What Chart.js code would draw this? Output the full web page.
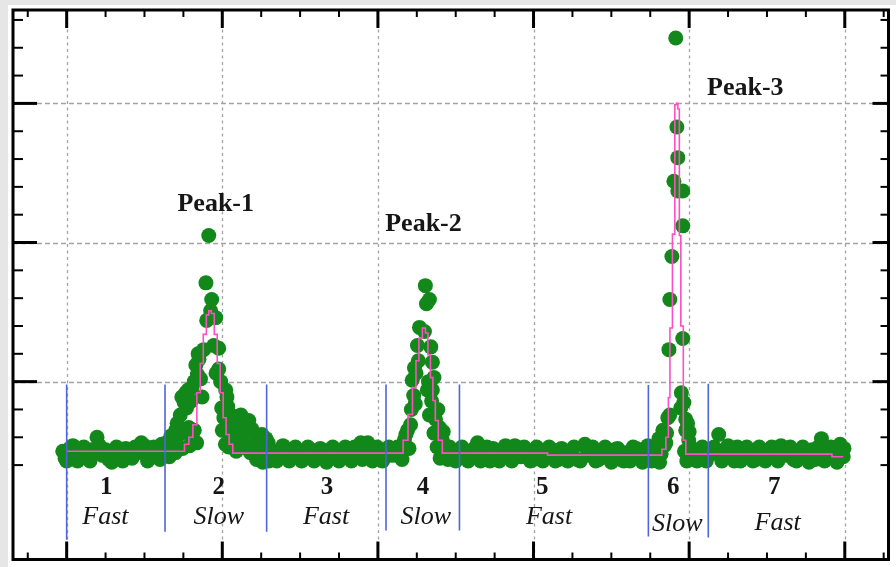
<!DOCTYPE html>
<html><head><meta charset="utf-8">
<script src="https://cdn.jsdelivr.net/npm/chart.js@4.4.0/dist/chart.umd.min.js"></script>
<style>html,body{margin:0;padding:0;background:#fff;}canvas{display:block;}</style>
</head><body>
<canvas id="c" width="896" height="567"></canvas>
<script>
// ---------- data (x in arbitrary time units, y in signal units) ----------
const region1Pts = [[-0.25,5.0],[-0.1,4.5],[0.2,5.2],[0.5,4.6],[0.9,5.0],[1.3,4.5],[1.6,5.1],[1.95,6.0],[2.3,4.7],[2.7,4.4],[3.0,5.0],[3.4,4.6],[3.8,5.2],[4.2,4.5],[4.6,4.9],[5.0,5.4],[5.4,4.6],[5.8,5.1],[6.2,4.7],[6.4,5.6]];
const region1PtsB = [[0.0,4.3],[0.4,5.4],[0.7,4.3],[1.1,5.3],[1.5,4.3],[1.8,5.0],[2.1,5.4],[2.5,5.1],[2.9,4.2],[3.2,5.3],[3.6,4.3],[4.0,4.9],[4.4,5.3],[4.8,5.6],[5.2,4.3],[5.6,5.3],[6.0,4.4],[6.1,5.5]];
const peak1Pts = [[6.7,6.1],[6.6,4.6],[7.0,6.5],[7.0,4.9],[7.25,6.2],[7.4,8.9],[7.45,5.2],[7.65,9.2],[7.7,8.1],[7.85,6.7],[7.9,5.4],[8.05,9.6],[8.05,6.0],[8.3,11.2],[8.4,10.5],[8.5,11.6],[8.7,8.9],[8.8,12.3],[8.95,17.1],[9.0,14.4],[9.13,20.5],[9.25,15.1],[9.32,15.9],[9.45,12.6],[9.58,14.6],[9.6,10.6],[9.77,12.4],[9.77,10.9],[9.96,8.1],[10.1,7.4],[10.22,9.4],[10.3,8.9],[10.4,5.3],[10.6,6.3],[10.75,7.1],[10.9,5.0],[11.05,6.9],[11.3,5.6],[11.5,6.7],[11.7,7.2],[11.8,4.9],[12.1,6.2],[12.2,4.4],[12.35,5.8],[12.55,6.2],[12.6,4.2],[12.95,5.6],[13.0,4.3]];
const peak1PtsB = [[6.8,5.4],[7.1,7.0],[7.3,7.6],[7.55,8.5],[7.8,9.4],[8.0,8.6],[8.2,10.0],[8.2,6.5],[8.45,12.0],[8.6,10.2],[8.35,5.6],[9.9,10.0],[10.0,6.5],[10.2,5.5],[10.35,8.2],[10.5,7.6],[10.7,6.0],[10.9,7.5],[11.1,5.6],[11.2,7.6],[11.4,6.2],[11.6,5.2],[11.9,6.6],[12.0,5.4],[12.4,5.0],[12.75,4.5],[12.8,5.9]];
const region3Pts = [[13.3,5.0],[13.7,4.6],[14.1,5.2],[14.5,4.7],[14.9,5.0],[15.3,4.5],[15.7,5.1],[16.1,4.8],[16.5,4.5],[16.9,5.1],[17.3,4.7],[17.7,5.0],[18.1,4.6],[18.5,5.3],[18.9,5.6],[19.2,5.2],[19.5,4.6],[19.8,5.0],[20.1,4.5],[20.5,4.9],[20.9,4.7]];
const region3PtsB = [[13.5,4.3],[13.9,5.4],[14.3,4.3],[14.7,5.3],[15.1,4.3],[15.5,5.3],[15.9,4.3],[16.3,5.2],[16.7,4.2],[17.1,5.3],[17.5,4.3],[17.9,5.3],[18.3,4.3],[18.7,5.0],[19.0,4.4],[19.35,5.6],[19.65,4.3],[19.95,5.3],[20.3,4.3],[20.7,5.3],[21.1,5.2]];
const peak2Pts = [[21.26,5.3],[21.4,4.6],[21.7,5.8],[21.9,6.5],[22.1,6.9],[22.2,10.1],[22.35,11.0],[22.4,8.4],[22.54,12.6],[22.67,13.9],[22.99,13.6],[23.05,16.9],[23.12,15.6],[23.31,15.9],[23.5,11.4],[23.18,9.4],[23.5,9.4],[23.31,7.6],[23.7,7.3],[23.8,5.3],[23.95,6.7],[24.14,5.8],[24.3,4.9],[24.5,4.4],[24.8,5.1]];
const peak2PtsB = [[21.55,4.4],[21.8,6.2],[22.0,5.2],[22.15,8.0],[22.3,9.0],[22.45,10.6],[22.6,11.5],[23.4,12.5],[23.6,10.3],[23.45,8.6],[23.6,6.3],[23.85,8.0],[24.0,4.5],[24.2,6.4],[24.6,5.3],[23.25,10.0]];
const region5Pts = [[25.2,4.6],[25.6,5.0],[26.0,4.7],[26.4,5.6],[26.8,4.8],[27.2,4.3],[27.6,5.0],[28.0,4.7],[28.4,4.9],[28.8,5.4],[29.2,4.6],[29.6,5.0],[30.0,4.4],[30.4,4.9],[30.8,4.6],[31.2,5.1],[31.6,4.4],[32.0,4.8],[32.4,5.0],[32.8,4.4],[33.3,5.5],[33.6,4.7],[34.0,4.3],[34.4,5.0],[34.8,4.6],[35.2,5.1],[35.6,4.4],[36.0,4.9],[36.4,5.3],[36.8,4.5],[37.2,5.2],[37.5,4.6]];
const region5PtsB = [[25.0,4.3],[25.4,5.3],[25.8,4.3],[26.2,5.2],[26.6,4.3],[27.0,5.3],[27.4,5.2],[27.8,4.3],[28.2,5.4],[28.6,4.3],[29.0,5.0],[29.4,5.3],[29.8,4.3],[30.2,5.3],[30.6,4.3],[31.0,5.3],[31.4,4.3],[31.8,5.2],[32.2,4.3],[32.6,5.3],[33.0,4.3],[33.45,5.1],[33.8,5.3],[34.2,4.4],[34.6,5.3],[35.0,4.2],[35.4,5.2],[35.8,4.3],[36.2,4.3],[36.6,5.2],[37.0,4.2],[37.35,5.4]];
const peak3Pts = [[37.8,5.3],[38.06,5.9],[38.2,4.8],[38.31,6.5],[38.5,5.6],[38.63,7.4],[38.7,12.3],[38.76,15.9],[38.89,19.0],[39.02,24.4],[39.14,34.7],[39.21,28.3],[39.27,26.1],[39.27,23.7],[39.59,23.7],[39.59,21.2],[39.59,13.1],[39.46,8.1],[39.66,8.5],[39.78,7.3],[39.78,6.5],[39.97,5.8],[40.1,5.3],[40.3,4.7],[40.7,5.0],[41.0,4.5]];
const peak3PtsB = [[37.6,4.3],[37.95,5.0],[38.1,4.2],[38.4,5.4],[38.55,6.3],[38.75,7.6],[39.7,5.0],[39.85,4.3],[40.0,6.4],[40.2,5.0],[40.5,4.3],[40.85,5.3],[41.1,4.3],[39.5,9.2],[39.9,7.0]];
const region7Pts = [[41.4,4.8],[41.9,6.2],[42.3,5.1],[42.7,4.6],[43.1,5.3],[43.5,4.7],[43.9,5.0],[44.3,4.4],[44.7,4.9],[45.1,5.1],[45.5,4.6],[45.9,5.4],[46.3,4.7],[46.7,4.4],[47.1,5.0],[47.5,4.6],[47.9,5.1],[48.5,5.9],[48.9,4.7],[49.3,4.9],[49.7,5.5],[49.9,4.6]];
const region7PtsB = [[41.6,5.3],[42.1,4.3],[42.5,5.4],[42.9,4.3],[43.3,4.3],[43.7,5.3],[44.1,4.3],[44.5,5.3],[44.9,4.3],[45.3,5.3],[45.7,4.3],[46.1,5.0],[46.5,5.3],[46.9,4.3],[47.3,5.3],[47.7,4.2],[48.1,4.4],[48.3,5.3],[48.7,4.3],[49.1,5.3],[49.5,4.2],[49.95,5.2]];

const fitCurve = [[0,5.0],[7.41,5.0],[7.73,5.5],[7.98,6.0],[8.24,6.9],[8.49,9.2],[8.68,11.3],[8.88,13.4],[9.07,14.8],[9.2,15.1],[9.39,14.9],[9.58,13.4],[9.77,11.3],[9.96,9.2],[10.15,7.4],[10.34,6.2],[10.54,5.5],[10.8,4.86],[21.46,4.86],[21.78,5.79],[22.09,7.64],[22.35,9.57],[22.54,11.5],[22.73,13.14],[22.99,13.86],[23.12,13.5],[23.31,11.93],[23.44,10.29],[23.63,8.64],[23.75,7.21],[24.01,5.79],[24.27,4.86],[30.85,4.86],[30.95,4.72],[38.12,4.72],[38.38,5.14],[38.63,6.0],[38.7,8.86],[38.83,13.86],[39.02,20.6],[39.14,29.9],[39.21,30.0],[39.34,29.6],[39.4,20.5],[39.53,14.0],[39.72,5.79],[39.85,4.79],[49.1,4.79],[49.25,4.6],[49.9,4.6]];

const dividerX = [0, 6.32, 12.85, 20.52, 25.24, 37.38, 41.23];
const dividerTop = [9.8, 9.8, 9.8, 9.8, 9.8, 9.75, 9.85];
const dividerBottom = [-1.36, -0.79, -0.79, -0.7, -0.7, -1.14, -1.21];

const regionNums = ['1','2','3','4','5','6','7'];
const regionSpeeds = ['Fast','Slow','Fast','Slow','Fast','Slow','Fast'];
const peakNames = ['Peak-1','Peak-2','Peak-3'];

const xMajor = [0,10,20,30,40,50];
const yMajor = [10,20,30];

// ---------- label placement (data coordinates) ----------
const numPos = [[2.55,1.93],[9.77,1.93],[16.73,1.93],[22.89,1.93],[30.56,1.93],[38.98,1.9],[45.47,1.9]];
const speedPos = [[2.49,-0.21],[9.77,-0.21],[16.67,-0.21],[23.08,-0.21],[31.0,-0.21],[39.24,-0.71],[45.69,-0.64]];
const peakPos = [[9.58,22.29],[22.93,20.86],[43.61,30.64]];

const toXY = a => a.map(p => ({x:p[0], y:p[1]}));
const allPts = [].concat(region1Pts, region1PtsB, peak1Pts, peak1PtsB, region3Pts, region3PtsB, peak2Pts, peak2PtsB, region5Pts, region5PtsB, peak3Pts, peak3PtsB, region7Pts, region7PtsB);

const datasets = [];
datasets.push({type:'scatter', data: toXY(allPts), backgroundColor:'#12881b', borderWidth:0, pointRadius:7.5, pointHoverRadius:7.5, order:3});
datasets.push({type:'line', data: toXY(fitCurve), borderColor:'#ff4fc4', borderWidth:1.6, pointRadius:0, stepped:'middle', fill:false, order:2});
dividerX.forEach((x,i) => {
  datasets.push({type:'line', data:[{x:x,y:dividerTop[i]},{x:x,y:dividerBottom[i]}], borderColor:'#5064dc', borderWidth:1.6, pointRadius:0, fill:false, order:1});
});

const L=13, T=10, R=894, B=563;
const X_MIN = (L-67)/15.66, X_MAX = (R-67)/15.66;
const Y_MAX = (524-T)/14, Y_MIN = (524-B)/14;

const decor = {
  id:'decor',
  beforeDraw(chart){
    const c = chart.ctx;
    c.save();
    c.fillStyle='#e6e6e6';
    c.fillRect(0,0,chart.width,5);
    c.fillRect(0,0,8,chart.height);
    c.restore();
  },
  beforeDatasetsDraw(chart){
    const c = chart.ctx, xs = chart.scales.x, ys = chart.scales.y, a = chart.chartArea;
    c.save();
    c.strokeStyle='#a3a3a3'; c.lineWidth=1.3;
    c.setLineDash([3,3.5]);
    xMajor.forEach(v => { const px = Math.round(xs.getPixelForValue(v))+0.5; c.beginPath(); c.moveTo(px,a.top); c.lineTo(px,a.bottom); c.stroke(); });
    c.setLineDash([5,3]);
    yMajor.forEach(v => { const py = Math.round(ys.getPixelForValue(v))+0.5; c.beginPath(); c.moveTo(a.left,py); c.lineTo(a.right,py); c.stroke(); });
    c.restore();
  },
  afterDraw(chart){
    const c = chart.ctx, xs = chart.scales.x, ys = chart.scales.y, a = chart.chartArea;
    c.save();
    c.strokeStyle='#000';
    const tick = (x1,y1,x2,y2,w) => { c.lineWidth=w; c.beginPath(); c.moveTo(x1,y1); c.lineTo(x2,y2); c.stroke(); };
    for (let v=-2.5; v<=52.5; v+=2.5) {
      const px = xs.getPixelForValue(v);
      if (px < a.left+2 || px > a.right-2) continue;
      const major = Math.abs(v/10 - Math.round(v/10)) < 1e-6;
      const len = major ? 18 : 7, w = major ? 3 : 2;
      tick(px, a.top, px, a.top+len, w);
      tick(px, a.bottom, px, a.bottom-len, w);
    }
    for (let v=4; v<=36; v+=2) {
      const py = ys.getPixelForValue(v);
      const major = v % 10 === 0;
      tick(a.left, py, a.left+(major?24:10), py, major?3:2);
      tick(a.right, py, a.right-(major?16:8), py, major?3:2);
    }
    c.lineWidth=3;
    c.strokeRect(a.left, a.top, a.right-a.left, a.bottom-a.top);
    c.fillStyle='#161616';
    c.textAlign='center'; c.textBaseline='alphabetic';
    c.font='bold 25px "Liberation Serif"';
    regionNums.forEach((t,i) => c.fillText(t, xs.getPixelForValue(numPos[i][0]), ys.getPixelForValue(numPos[i][1])));
    c.font='italic 26px "Liberation Serif"';
    regionSpeeds.forEach((t,i) => c.fillText(t, xs.getPixelForValue(speedPos[i][0]), ys.getPixelForValue(speedPos[i][1])));
    c.font='bold 26px "Liberation Serif"';
    peakNames.forEach((t,i) => c.fillText(t, xs.getPixelForValue(peakPos[i][0]), ys.getPixelForValue(peakPos[i][1])));
    c.restore();
  }
};

new Chart(document.getElementById('c'), {
  type:'scatter',
  data:{datasets},
  options:{
    responsive:false, animation:false, devicePixelRatio:1,
    layout:{padding:{left:L, top:T, right:896-R, bottom:567-B}},
    plugins:{legend:{display:false}, tooltip:{enabled:false}},
    scales:{
      x:{type:'linear', display:false, min:X_MIN, max:X_MAX},
      y:{type:'linear', display:false, min:Y_MIN, max:Y_MAX}
    }
  },
  plugins:[decor]
});
</script>
</body></html>
